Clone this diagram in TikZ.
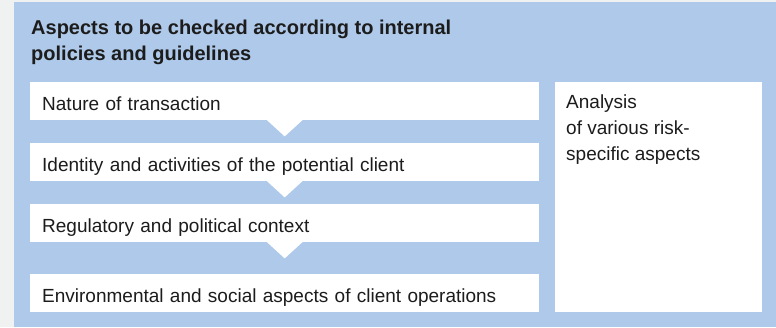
\documentclass[tikz,border=0pt]{standalone}
\usepackage{fontspec}
\setmainfont{Liberation Sans}
\usetikzlibrary{calc}
\definecolor{pagegray}{RGB}{240,241,241}
\definecolor{panelblue}{RGB}{174,201,233}
\definecolor{inkgray}{RGB}{28,28,28}
\begin{document}
\begin{tikzpicture}[x=1pt,y=-1pt,
  bodyfont/.style={font=\fontsize{19}{25.7}\selectfont, text=inkgray},
  stepbox/.style={bodyfont, fill=white, anchor=north west,
    minimum width=509pt, minimum height=38pt,
    inner xsep=12pt, inner ysep=0pt, text width=485pt, align=left,
    text height=18pt, text depth=0pt},
  pointer/.style={fill=white}]
% page and panel
\fill[pagegray] (0,0) rectangle (776,327);
\fill[panelblue] (14,2) rectangle (776,327);
% heading
\node[anchor=north west, inner sep=0pt, align=left, text=inkgray,
  font=\bfseries\fontsize{20}{25.8}\selectfont] (title) at (31,20)
  {Aspects to be checked according to internal\\policies and guidelines};
% checklist steps
\node[stepbox] (s1) at (30,82)  {Nature of transaction};
\node[stepbox] (s2) at (30,143) {Identity and activities of the potential client};
\node[stepbox] (s3) at (30,204) {Regulatory and political context};
\node[stepbox] (s4) at (30,274) {Environmental and social aspects of client operations};
% downward pointers between steps
\foreach \n in {s1,s2,s3}{
  \fill[pointer] ($(\n.south)+(-18,-0.5)$) -- ($(\n.south)+(18,-0.5)$)
    -- ($(\n.south)+(0,16)$) -- cycle;
}
% analysis box
\node[fill=white, anchor=north west, minimum width=207pt, minimum height=230pt,
  inner sep=0pt] (risk) at (555,82) {};
\node[bodyfont, anchor=north west, inner sep=0pt, align=left] (risktext)
  at ($(risk.north west)+(11,13)$) {Analysis\\of various risk-\\specific aspects};
\end{tikzpicture}
\end{document}
